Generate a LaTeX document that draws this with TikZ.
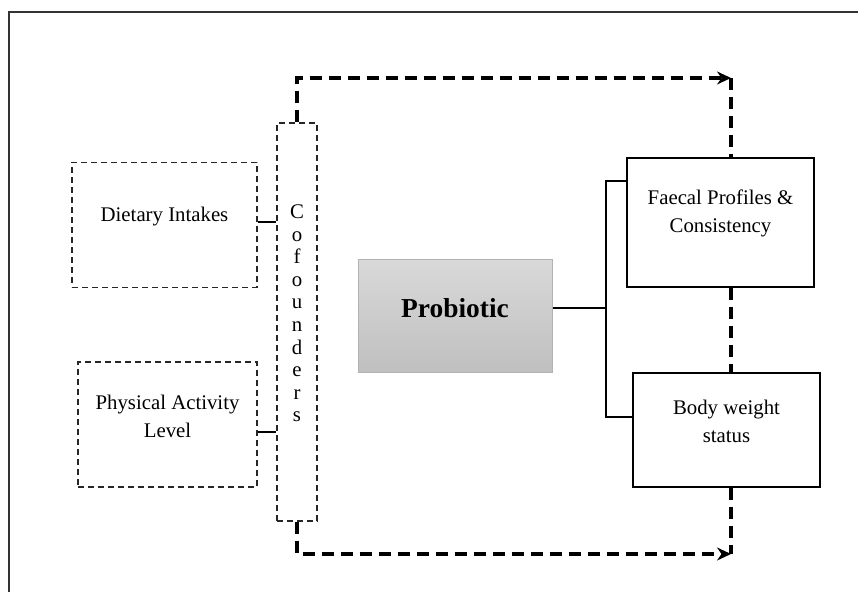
\documentclass[tikz,border=0pt]{standalone}
\usepackage{fontspec}
\setmainfont{Liberation Serif}
\usetikzlibrary{arrows.meta}

\tikzstyle{arrow} = [line width=1.7pt, dash pattern=on 6pt off 3.5pt, -{Stealth[length=7pt,width=6.5pt]}]
\tikzstyle{pointille} = [line width=1.7pt, dash pattern=on 6pt off 3.5pt]
\tikzstyle{lien} = [line width=1pt]
\tikzstyle{facteur} = [
        rectangle,
        draw=black!85,
        line width=0.6pt,
        dash pattern=on 3pt off 2pt
    ]
\tikzstyle{mesure} = [
        rectangle,
        draw=black,
        line width=0.65pt
    ]
\tikzstyle{traitement} = [
        rectangle,
        draw=gray!60,
        line width=0.5pt,
        top color=gray!30,
        bottom color=gray!50
    ]
\tikzset{every label/.style={yshift=4.3pt, align=center, text=black, font=\fontsize{10.4}{14}\selectfont}}

\begin{document}
\begin{tikzpicture}[x=0.5pt, y=-0.5pt]
        \useasboundingbox (0,0) rectangle (858,592);
        \draw [line width=1pt, black!80] (9,592) |- (858,12);

        % confounders on the left
        \node [facteur, minimum width=92.5pt, minimum height=62.5pt, label=center:Dietary Intakes] (diet) at (164.5,225) {};
        \node [facteur, minimum width=89.5pt, minimum height=62.5pt, label=center:{Physical Activity\\Level}] (phys) at (167.5,424.5) {};
        \node [facteur, minimum width=20pt, minimum height=199pt, label={[font=\fontsize{10.4}{11.3}\selectfont]center:C\\o\\f\\o\\u\\n\\d\\e\\r\\s}] (cof) at (297,322) {};
        \draw [lien] ([yshift=1.5pt]diet.east) -- ([yshift=1.5pt]diet.east -| cof.west);
        \draw [lien] ([yshift=-3.75pt]phys.east) -- ([yshift=-3.75pt]phys.east -| cof.west);

        % intervention and outcomes
        \node [traitement, minimum width=97pt, minimum height=56.5pt, label={[font=\fontsize{13.7}{16}\selectfont\bfseries]center:Probiotic}] (prob) at (455,316.5) {};
        \node [mesure, minimum width=93.5pt, minimum height=64.5pt, label=center:{Faecal Profiles \&\\Consistency}] (fae) at (720.5,222.5) {};
        \node [mesure, minimum width=93.5pt, minimum height=57pt, label=center:{Body weight\\status}] (body) at (726.5,430) {};
        \draw [lien] ([yshift=4.25pt]prob.east) -- ++(53,0) coordinate (bus);
        \draw [lien] ([yshift=20.75pt]fae.west) -| (bus) |- ([yshift=6.5pt]body.west);

        % confounding paths
        \coordinate (haut) at (731,78);
        \coordinate (bas) at (731,554);
        \draw [arrow] (cof.north) |- (haut);
        \draw [pointille] (haut) -- (haut |- fae.north);
        \draw [pointille] (haut |- fae.south) -- (haut |- body.north);
        \draw [pointille] (haut |- body.south) -- (bas);
        \draw [arrow] (cof.south) |- (bas);
    \end{tikzpicture}
\end{document}
